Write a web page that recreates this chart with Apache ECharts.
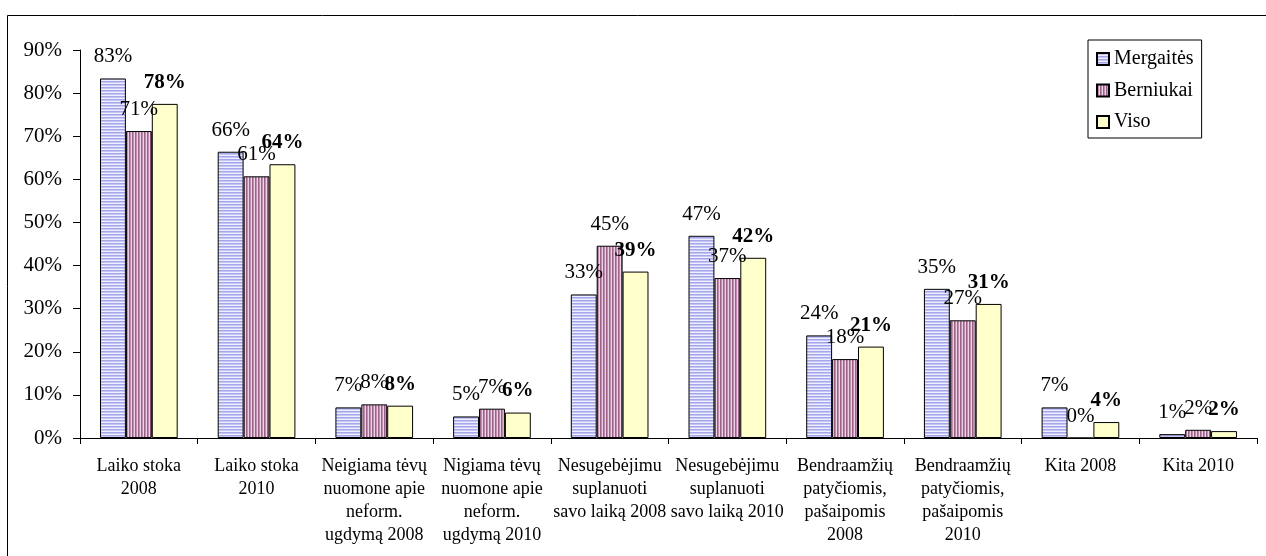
<!DOCTYPE html>
<html>
<head>
<meta charset="utf-8">
<script src="https://cdn.jsdelivr.net/npm/echarts@6/dist/echarts.min.js"></script>
<style>
html,body{margin:0;padding:0;background:#fff;}
#chart{width:1266px;height:556px;}
</style>
</head>
<body>
<div id="chart"></div>
<script>
var categories = [
  "Laiko stoka\n2008",
  "Laiko stoka\n2010",
  "Neigiama tėvų\nnuomone apie\nneform.\nugdymą 2008",
  "Nigiama tėvų\nnuomone apie\nneform.\nugdymą 2010",
  "Nesugebėjimu\nsuplanuoti\nsavo laiką 2008",
  "Nesugebėjimu\nsuplanuoti\nsavo laiką 2010",
  "Bendraamžių\npatyčiomis,\npašaipomis\n2008",
  "Bendraamžių\npatyčiomis,\npašaipomis\n2010",
  "Kita 2008",
  "Kita 2010"
];
var seriesNames = ["Mergaitės", "Berniukai", "Viso"];
var mergaites = [83.4, 66.4, 7.1, 5.0, 33.3, 46.9, 23.8, 34.6, 7.1, 0.9];
var berniukai = [71.2, 60.7, 7.8, 6.8, 44.6, 37.1, 18.3, 27.3, 0, 1.9];
var viso = [77.5, 63.5, 7.5, 5.9, 38.6, 41.8, 21.2, 31.1, 3.7, 1.6];
var yTicks = [0, 10, 20, 30, 40, 50, 60, 70, 80, 90];

function makePattern(w, h, draw) {
  var c = document.createElement('canvas');
  c.width = w; c.height = h;
  var ctx = c.getContext('2d');
  draw(ctx);
  return { image: c, repeat: 'repeat' };
}
var hStripes = makePattern(4, 3, function (ctx) {
  var cols = ['#a6a6ec', '#c6c6f3', '#eeeefc'];
  for (var i = 0; i < 3; i++) { ctx.fillStyle = cols[i]; ctx.fillRect(0, i, 4, 1); }
});
var vStripes = makePattern(3, 4, function (ctx) {
  var cols = ['#9a6288', '#bf8fae', '#ecd2e4'];
  for (var i = 0; i < 3; i++) { ctx.fillStyle = cols[i]; ctx.fillRect(i, 0, 1, 4); }
});

var FONT = 'Liberation Serif';
function lbl(bold) {
  return {
    show: true, position: 'top', distance: 11,
    fontFamily: FONT, fontSize: 21, color: '#000',
    fontWeight: bold ? 'bold' : 'normal',
    formatter: function (p) { return Math.round(p.value) + '%'; }
  };
}
function barSeries(name, data, color, bold) {
  return {
    name: name, type: 'bar', data: data,
    barGap: '0%', barCategoryGap: '34%',
    itemStyle: { color: color, borderColor: '#000', borderWidth: 1 },
    label: lbl(bold),
    emphasis: { disabled: true },
    animation: false
  };
}

var chart = echarts.init(document.getElementById('chart'));
chart.setOption({
  animation: false,
  backgroundColor: '#fff',
  graphic: [{
    type: 'rect', shape: { x: 7.5, y: 15.5, width: 1270, height: 560 },
    style: { fill: 'none', stroke: '#000', lineWidth: 1 }, silent: true, z: -1
  }],
  grid: { left: 80, right: 9, top: 50, bottom: 118, containLabel: false },
  legend: {
    orient: 'vertical', left: 1088, top: 40,
    data: seriesNames,
    borderColor: '#000', borderWidth: 1,
    padding: [9, 8, 6, 8],
    itemWidth: 12, itemHeight: 12, itemGap: 11.5, itemTextGap: 7,
    icon: 'rect',
    textStyle: { fontFamily: FONT, fontSize: 20, color: '#000', lineHeight: 20 }
  },
  xAxis: {
    type: 'category', data: categories,
    axisLine: { lineStyle: { color: '#000', width: 1 } },
    axisTick: { show: true, length: 6, lineStyle: { color: '#000' } },
    axisLabel: { interval: 0, margin: 17, fontFamily: FONT, fontSize: 18, color: '#000', lineHeight: 23 }
  },
  yAxis: {
    type: 'value', min: 0, max: 90, interval: 10,
    splitLine: { show: false },
    axisLine: { show: true, lineStyle: { color: '#000', width: 1 } },
    axisTick: { show: true, length: 7, lineStyle: { color: '#000' } },
    axisLabel: {
      margin: 18, fontFamily: FONT, fontSize: 21, color: '#000',
      formatter: function (v) { return yTicks.indexOf(v) >= 0 ? v + '%' : ''; }
    }
  },
  series: [
    barSeries(seriesNames[0], mergaites, hStripes, false),
    barSeries(seriesNames[1], berniukai, vStripes, false),
    barSeries(seriesNames[2], viso, '#ffffcc', true)
  ]
});
</script>
</body>
</html>
